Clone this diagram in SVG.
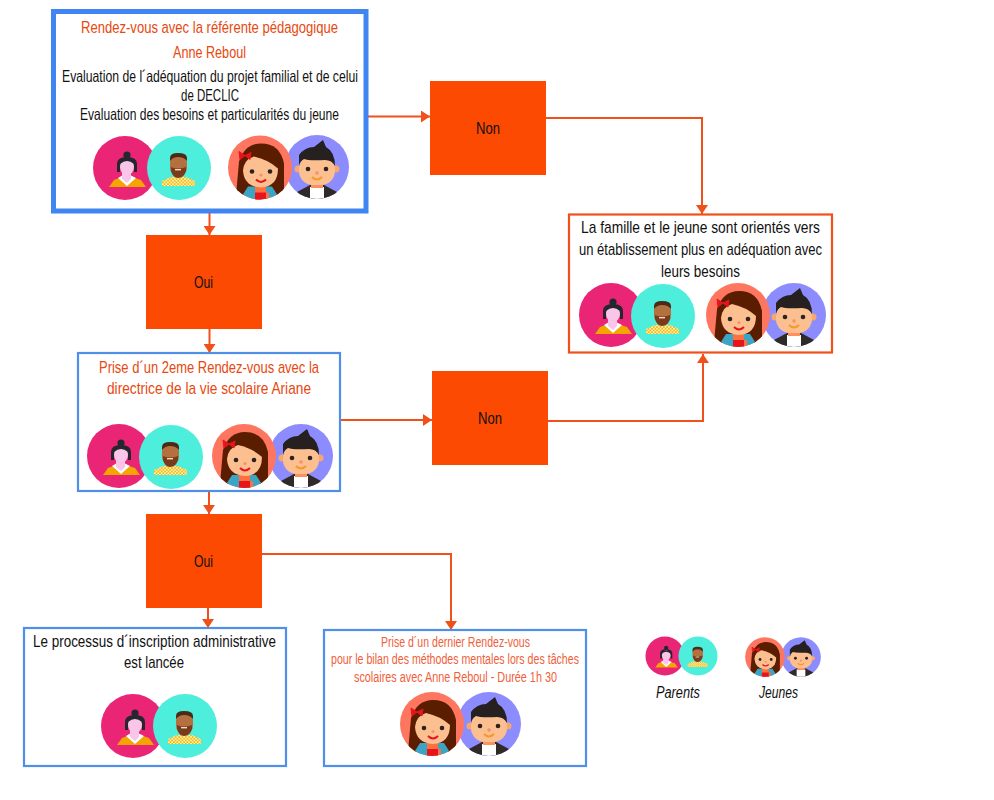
<svg xmlns="http://www.w3.org/2000/svg" width="994" height="800" viewBox="0 0 994 800">
<style>
text{font-family:"Liberation Sans",Arial,sans-serif;font-size:17px;fill:#111;}
.o{fill:#e8480f}
.s{font-size:14px;fill:#f0603a}
.i{font-style:italic;font-size:16px}
.c{font-size:16.5px}
.box{fill:#fff;stroke:#4f8fe8;stroke-width:2.2}
.dec{fill:#fc4a03}
.con{fill:none;stroke:#f0511a;stroke-width:2;marker-end:url(#a)}
</style>
<defs>
<marker id="a" markerUnits="userSpaceOnUse" markerWidth="12" markerHeight="12" refX="9" refY="6" orient="auto"><path d="M0 0L9 6L0 12Z" fill="#f0511a"/></marker>
<clipPath id="cl"><circle r="32"/></clipPath>
<pattern id="chk" width="3.4" height="3.4" patternUnits="userSpaceOnUse"><rect width="3.4" height="3.4" fill="#fff3a8"/><rect width="1.7" height="1.7" fill="#f0b820"/><rect x="1.7" y="1.7" width="1.7" height="1.7" fill="#f0b820"/></pattern>
<g id="mother">
<circle r="32" fill="#ea2575"/>
<path d="M-16 19L-11 12L-3 9H7L16 12L21 19Z" fill="#f5a500"/>
<path d="M-7 10L2 18L11 10L5 7H-2Z" fill="#fff"/>
<path d="M-3 3H6V11L2 15L-3 11Z" fill="#f9c6ea"/>
<circle cx="2" cy="-13" r="3.6" fill="#26262e"/>
<path d="M-8 4V-4Q-8 -11 2 -11Q12 -11 12 -4V4H9V-3H-5V4Z" fill="#26262e"/>
<ellipse cx="2" cy="-1" rx="7" ry="8" fill="#f9c6ea"/>
<path d="M-5 -4Q2 -10 9 -4L7 -9H-3Z" fill="#26262e"/>
</g>
<g id="father">
<circle r="32" fill="#4deedb"/>
<path d="M-17 18V13L-8 9H7L16 13V18Z" fill="url(#chk)"/>
<rect x="-9" y="-13" width="17" height="20" rx="7" fill="#b5703f"/>
<path d="M-9 -7V-10Q-9 -15 -1 -15Q8 -15 8 -10V-7Q5 -11 -1 -11Q-6 -11 -9 -7Z" fill="#4a2a18"/>
<path d="M-8 -1Q-1 2 7 -1V3Q5 10 -1 10Q-6 10 -8 3Z" fill="#7a3a1c"/>
<rect x="-4" y="1" width="6" height="1.4" fill="#f4d9c4"/>
</g>
<g id="girl">
<circle r="32" fill="#ff7660"/>
<g clip-path="url(#cl)">
<path d="M-24 28L-21 -6Q-15 -24 1 -24Q20 -24 24 -4L24 28Z" fill="#5a1d00"/>
<path d="M-12 19L-19 30V32H19V30L12 19Z" fill="#3ba5c5"/>
<path d="M-5 18H6V25H9V33H-5V25Z" fill="#ff7040"/>
<rect x="-5" y="25" width="11" height="8" fill="#e8141c"/>
<path d="M-17 3Q-16 -8 -6 -11Q8 -8 18 1Q18 19 1 20Q-16 19 -17 3Z" fill="#fbbf90"/>
<circle cx="-8" cy="4" r="2.3" fill="#2c2222"/>
<circle cx="10" cy="4" r="2.3" fill="#2c2222"/>
<circle cx="1" cy="7.5" r="1.6" fill="#f2946a"/>
<path d="M-4 12Q1 17 6 12" fill="none" stroke="#e8141c" stroke-width="2"/>
<path d="M-15 -12L-21 -16L-20 -8ZM-15 -12L-9 -15L-10 -8Z" fill="#e8141c" stroke="#e8141c"/>
</g>
</g>
<g id="boy">
<circle r="32" fill="#8c8cff"/>
<g clip-path="url(#cl)">
<path d="M-20 32V25L-7 18H7L20 25V32Z" fill="#2f2a28"/>
<path d="M-7 20H7V33H-7Z" fill="#fff"/>
<rect x="-6" y="16" width="12" height="5" fill="#ff8f5e"/>
<circle cx="-19" cy="2" r="3.5" fill="#f6a76e"/>
<circle cx="19" cy="2" r="3.5" fill="#f6a76e"/>
<rect x="-18" y="-12" width="36" height="30" rx="14" fill="#fbbf90"/>
<path d="M-18 -1V-12Q-12 -20 -3 -20L6 -27L9 -20Q18 -15 18 -1Q15 -7 8 -7Q-8 -6 -13 -8Q-17 -6 -18 -1Z" fill="#262020"/>
<circle cx="-9" cy="2" r="2.3" fill="#2c2222"/>
<circle cx="9" cy="2" r="2.3" fill="#2c2222"/>
<circle cx="0" cy="6" r="1.8" fill="#f2946a"/>
<path d="M-5 10Q0 15 5 10" fill="none" stroke="#f59a2a" stroke-width="2"/>
</g>
</g>
</defs>
<rect width="994" height="800" fill="#fff"/>
<g id="connectors">
<path class="con" d="M368 116.500H430"/>
<path class="con" d="M546 118H702V214"/>
<path class="con" d="M209.500 213V235"/>
<path class="con" d="M209.500 329V353"/>
<path class="con" d="M341 420H432"/>
<path class="con" d="M548 421H703V354"/>
<path class="con" d="M209 491V514"/>
<path class="con" d="M208 608V628"/>
<path class="con" d="M262 554H451V630"/>
</g>
<g id="n1">
<rect x="53.500" y="11.500" width="312.500" height="199.500" fill="#fff" stroke="#3f86f2" stroke-width="5"/>
<text class="o" x="81" y="33" textLength="257" lengthAdjust="spacingAndGlyphs">Rendez-vous avec la référente pédagogique</text>
<text class="o" x="173" y="58" textLength="73" lengthAdjust="spacingAndGlyphs">Anne Reboul</text>
<text class="c" x="62" y="82" textLength="296" lengthAdjust="spacingAndGlyphs">Evaluation  de l´adéquation du projet familial et de celui</text>
<text class="c" x="181" y="101" textLength="58" lengthAdjust="spacingAndGlyphs">de DECLIC</text>
<text class="c" x="80" y="120" textLength="259" lengthAdjust="spacingAndGlyphs">Evaluation des besoins et particularités du jeune</text>
<use href="#mother" x="125" y="168"/><use href="#father" x="179" y="168"/><use href="#boy" x="317" y="167"/><use href="#girl" x="260" y="167.500"/>
</g>
<g id="n2"><rect class="dec" x="430" y="81" width="116" height="94"/><text x="476" y="134" textLength="24" lengthAdjust="spacingAndGlyphs">Non</text></g>
<g id="n3"><rect class="dec" x="146" y="235" width="116" height="94"/><text x="194" y="288" textLength="19" lengthAdjust="spacingAndGlyphs">Oui</text></g>
<g id="n4">
<rect x="569" y="214.500" width="263" height="138" fill="#fff" stroke="#f0511a" stroke-width="2.200"/>
<text x="581" y="233" textLength="239" lengthAdjust="spacingAndGlyphs">La famille et le  jeune sont orientés vers</text>
<text x="579" y="255" textLength="243" lengthAdjust="spacingAndGlyphs">un établissement plus en adéquation avec</text>
<text x="661" y="277" textLength="79" lengthAdjust="spacingAndGlyphs">leurs besoins</text>
<use href="#mother" x="611" y="315"/><use href="#father" x="663" y="316"/><use href="#boy" x="794" y="315"/><use href="#girl" x="738" y="315"/>
</g>
<g id="n5">
<rect class="box" x="78" y="353" width="262" height="138"/>
<text class="o" x="99" y="373" textLength="220" lengthAdjust="spacingAndGlyphs">Prise d´un 2eme Rendez-vous avec la</text>
<text class="o" x="107" y="394" textLength="204" lengthAdjust="spacingAndGlyphs">directrice de la vie scolaire Ariane</text>
<use href="#mother" x="119" y="456"/><use href="#father" x="171" y="457"/><use href="#boy" x="301" y="456"/><use href="#girl" x="244" y="456"/>
</g>
<g id="n6"><rect class="dec" x="432" y="371" width="116" height="94"/><text x="478" y="424" textLength="24" lengthAdjust="spacingAndGlyphs">Non</text></g>
<g id="n7"><rect class="dec" x="146" y="514" width="116" height="94"/><text x="194" y="567" textLength="19" lengthAdjust="spacingAndGlyphs">Oui</text></g>
<g id="n8">
<rect class="box" x="24" y="628" width="262" height="138"/>
<text x="33" y="647" textLength="243" lengthAdjust="spacingAndGlyphs">Le processus d´inscription administrative</text>
<text x="124" y="668" textLength="60" lengthAdjust="spacingAndGlyphs">est lancée</text>
<use href="#mother" x="133" y="726"/><use href="#father" x="185" y="726"/>
</g>
<g id="n9">
<rect class="box" x="324" y="630" width="262" height="136"/>
<text class="s" x="381" y="647" textLength="149" lengthAdjust="spacingAndGlyphs">Prise d´un dernier Rendez-vous</text>
<text class="s" x="331" y="664" textLength="248" lengthAdjust="spacingAndGlyphs">pour le bilan des méthodes mentales lors des tâches</text>
<text class="s" x="354" y="682" textLength="203" lengthAdjust="spacingAndGlyphs">scolaires avec Anne Reboul - Durée 1h 30</text>
<use href="#boy" x="489" y="724"/><use href="#girl" x="432" y="724"/>
</g>
<g id="legend-parents">
<use href="#mother" transform="translate(665 656) scale(.61)"/><use href="#father" transform="translate(698 656) scale(.61)"/>
<text class="i" x="656" y="698" textLength="44" lengthAdjust="spacingAndGlyphs">Parents</text>
</g>
<g id="legend-jeunes">
<use href="#boy" transform="translate(801 657) scale(.62)"/><use href="#girl" transform="translate(765 657) scale(.62)"/>
<text class="i" x="759" y="698" textLength="39" lengthAdjust="spacingAndGlyphs">Jeunes</text>
</g>
</svg>
